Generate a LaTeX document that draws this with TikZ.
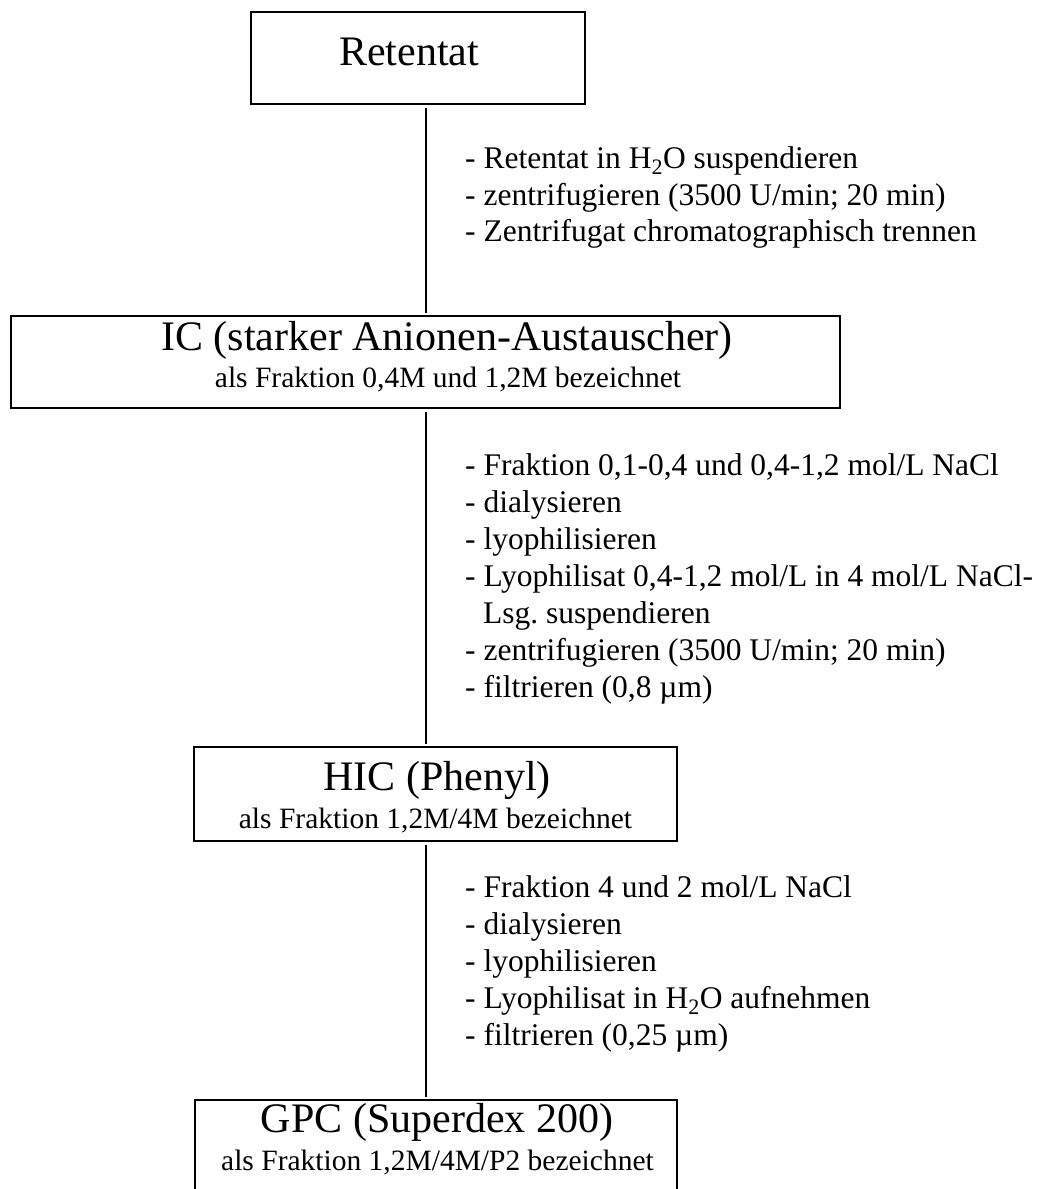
\documentclass[tikz,border=0pt]{standalone}
\usepackage{fontspec}
\setmainfont{Liberation Serif}
\frenchspacing
\begin{document}
\begin{tikzpicture}[x=1pt,y=-1pt,
  box/.style={draw, line width=2pt, rectangle, inner sep=0pt},
  conn/.style={line width=1.8pt, shorten <=2.5pt, shorten >=2.5pt},
  titletxt/.style={anchor=base, inner sep=0pt, font=\fontsize{42}{50}\selectfont},
  subtxt/.style={anchor=base, inner sep=0pt, font=\fontsize{29.5}{35}\selectfont},
  steptxt/.style={anchor=base west, inner sep=0pt, font=\fontsize{31.5}{37}\selectfont}]
\useasboundingbox (0,0) rectangle (1044,1189);
\clip (0,0) rectangle (1044,1189);
\fill[white] (0,0) rectangle (1044,1189);

% boxes
\node[box, minimum width=334pt, minimum height=92pt] (ret) at (418,58) {};
\node[box, minimum width=829pt, minimum height=92pt] (ic) at (425.5,362) {};
\node[box, minimum width=483pt, minimum height=94pt] (hic) at (435.5,794) {};
\node[box, minimum width=482pt, minimum height=110pt] (gpc) at (436,1155) {};

% box texts
\node[titletxt] (retT) at (409,65) {Retentat};
\node[titletxt] (icT) at (447,350) {IC (starker Anionen-Austauscher)};
\node[subtxt] (icS) at (448,387) {als Fraktion 0,4M und 1,2M bezeichnet};
\node[titletxt] (hicT) at (437,790) {HIC (Phenyl)};
\node[subtxt] (hicS) at (435.5,828) {als Fraktion 1,2M/4M bezeichnet};
\node[titletxt] (gpcT) at (437,1132) {GPC (Superdex 200)};
\node[subtxt] (gpcS) at (437.5,1170) {als Fraktion 1,2M/4M/P2 bezeichnet};

% connectors
\coordinate (lx) at (426,0);
\draw[conn] (ret.south -| lx) -- (ic.north -| lx);
\draw[conn] (ic.south -| lx) -- (hic.north -| lx);
\draw[conn] (hic.south -| lx) -- (gpc.north -| lx);

% step block 1
\node[steptxt] (a1) at (465,168) {- Retentat in H\textsubscript{2}O suspendieren};
\node[steptxt] (a2) at (465,205) {- zentrifugieren (3500 U/min; 20 min)};
\node[steptxt] (a3) at (465,241) {- Zentrifugat chromatographisch trennen};

% step block 2
\node[steptxt] (b1) at (465,475) {- Fraktion 0,1-0,4 und 0,4-1,2 mol/L NaCl};
\node[steptxt] (b2) at (465,512) {- dialysieren};
\node[steptxt] (b3) at (465,549) {- lyophilisieren};
\node[steptxt] (b4) at (465,586) {- Lyophilisat 0,4-1,2 mol/L in 4 mol/L NaCl-};
\node[steptxt] (b5) at (483,623) {Lsg.\ suspendieren};
\node[steptxt] (b6) at (465,660) {- zentrifugieren (3500 U/min; 20 min)};
\node[steptxt] (b7) at (465,697) {- filtrieren (0,8 µm)};

% step block 3
\node[steptxt] (c1) at (465,897) {- Fraktion 4 und 2 mol/L NaCl};
\node[steptxt] (c2) at (465,934) {- dialysieren};
\node[steptxt] (c3) at (465,971) {- lyophilisieren};
\node[steptxt] (c4) at (465,1008) {- Lyophilisat in H\textsubscript{2}O aufnehmen};
\node[steptxt] (c5) at (465,1045) {- filtrieren (0,25 µm)};
\end{tikzpicture}
\end{document}
